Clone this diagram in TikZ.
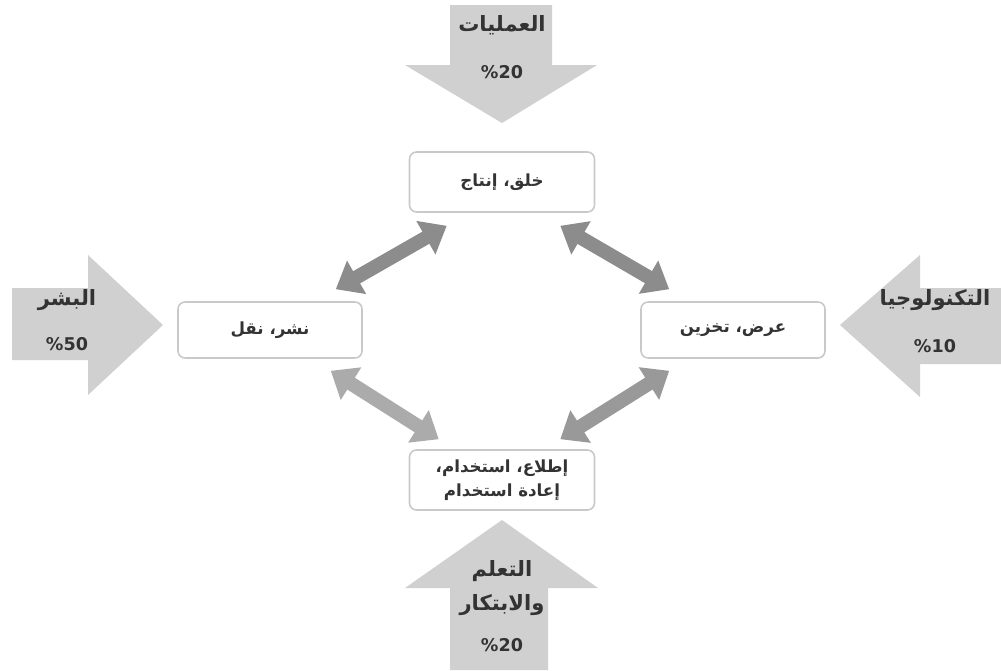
\documentclass[tikz,border=0pt]{standalone}
\usepackage{fontspec}
\newfontfamily\arabicfont[Script=Arabic]{DejaVu Sans}
\TeXXeTstate=1
\usetikzlibrary{arrows.meta}
\usetikzlibrary{calc}

\definecolor{boxline}{HTML}{C9C9C9}
\definecolor{bigfill}{HTML}{D0D0D0}
\definecolor{textgrey}{HTML}{333333}

\tikzset{
  stage/.style={draw=boxline, line width=0.9pt, rounded corners=4pt, fill=white,
    minimum width=3.7cm, minimum height=1.2cm, align=center,
    font=\arabicfont\bfseries\fontsize{9.5}{14}\selectfont, text=textgrey},
  flow/.style={line width=2.8mm,
    {Triangle[length=4.8mm,width=7.4mm]}-{Triangle[length=4.8mm,width=7.4mm]}},
  driver/.style={font=\arabicfont\bfseries\fontsize{12}{17}\selectfont, text=textgrey, align=center},
  share/.style={font=\arabicfont\bfseries\fontsize{10}{12}\selectfont, text=textgrey}
}

\begin{document}
\begin{tikzpicture}[x=0.02cm,y=-0.02cm]

    \useasboundingbox (0,0) rectangle (1001,670);

    % big input arrows
    \fill[bigfill] (450,5) -- (552,5) -- (552,65) -- (597,65) -- (502,123) -- (405,65) -- (450,65) -- cycle;
    \fill[bigfill] (12,288) -- (88,288) -- (88,255) -- (163,325) -- (88,395) -- (88,360) -- (12,360) -- cycle;
    \fill[bigfill] (1001,288) -- (920,288) -- (920,255) -- (840,325) -- (920,397) -- (920,364) -- (1001,364) -- cycle;
    \fill[bigfill] (450,670) -- (548,670) -- (548,588) -- (598,588) -- (502,520) -- (405,588) -- (450,588) -- cycle;

    % arrow labels
    \node[driver] (ops) at (502,25) {\beginR العمليات\endR};
    \node[share] (opsval) at (502,72) {\%20};
    \node[driver] (people) at (67,300) {\beginR البشر\endR};
    \node[share] (peopleval) at (67,344) {\%50};
    \node[driver] (tech) at (935,300) {\beginR التكنولوجيا\endR};
    \node[share] (techval) at (935,346) {\%10};
    \node[driver] (learn) at (502,588) {\beginR التعلم\endR\\[2pt]\beginR والابتكار\endR};
    \node[share] (learnval) at (502,645) {\%20};

    % stages
    \node[stage] (top) at (502,182) {\beginR خلق، إنتاج\endR};
    \node[stage, minimum width=3.68cm, minimum height=1.12cm] (left) at (270,330) {\beginR نشر، نقل\endR};
    \node[stage, minimum width=3.68cm, minimum height=1.12cm] (right) at (733,330) {\beginR عرض، تخزين\endR};
    \node[stage] (bottom) at (502,480) {\beginR إطلاع، استخدام،\endR\\\beginR إعادة استخدام\endR};

    % links between stages
    \draw[flow, color=black!45] ($(top.south west)+(38,13)$) -- ($(left.north east)+(-27,-12)$);
    \draw[flow, color=black!45] ($(top.south east)+(-35,13)$) -- ($(right.north west)+(29,-12)$);
    \draw[flow, color=black!33] ($(left.south east)+(-32,12)$) -- ($(bottom.north west)+(30,-10)$);
    \draw[flow, color=black!40] ($(right.south west)+(29,12)$) -- ($(bottom.north east)+(-35,-10)$);

\end{tikzpicture}
\end{document}
